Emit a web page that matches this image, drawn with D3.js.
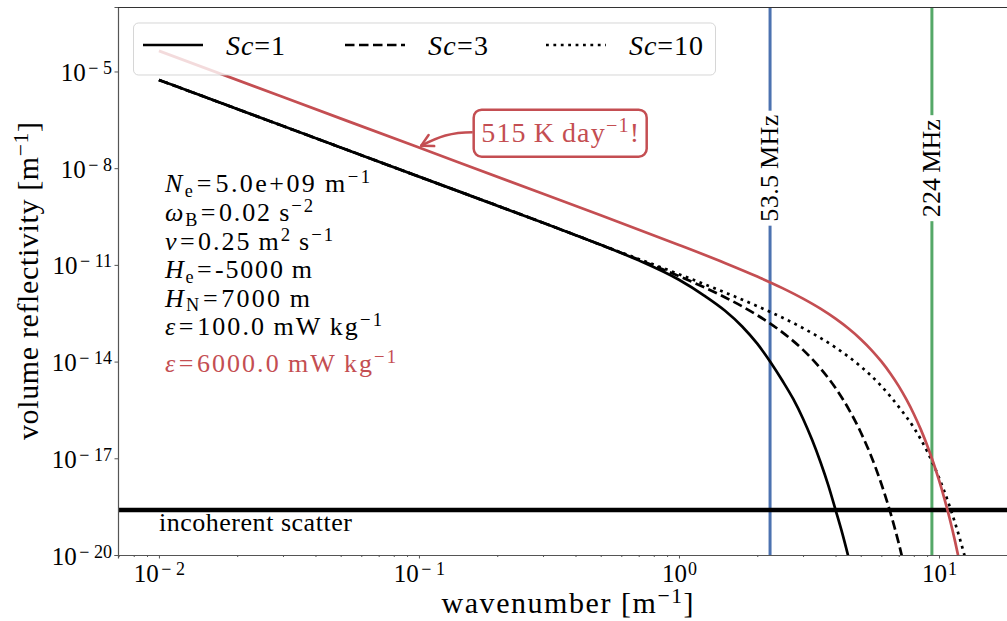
<!DOCTYPE html>
<html><head><meta charset="utf-8">
<script src="https://cdn.jsdelivr.net/npm/d3@7/dist/d3.min.js"></script>
<style>
body{margin:0;background:#fff}
svg{display:block}
text{font-family:"Liberation Serif","Times New Roman",serif;fill:#000}
</style></head>
<body><svg id="chart" width="1007" height="621"></svg>
<script>
// ---------------- data ----------------
const sc1K = [0.01, 0.03, 0.1, 0.3, 0.5, 0.7, 1.0, 1.25, 1.5, 1.75, 2.0, 2.25, 2.5, 2.75, 3.0, 3.25, 3.5, 3.75, 4.0, 4.25, 4.5, 4.75];
const sc1V = [5.47e-6, 2.03e-7, 5.47e-9, 2.03e-10, 4.20e-11, 1.38e-11, 3.45e-12, 1.12e-12, 3.84e-13, 1.23e-13, 3.59e-14, 9.57e-15, 2.54e-15, 6.92e-16, 1.69e-16, 3.73e-17, 7.69e-18, 1.47e-18, 2.52e-19, 4.60e-20, 7.73e-21, 1.28e-21];

const sc3K = [0.01, 0.03, 0.1, 0.3, 0.5, 0.75, 1.0, 1.5, 2.0, 2.5, 3.0, 3.5, 4.0, 4.5, 5.0, 5.5, 6.0, 6.5, 7.0, 7.5, 8.0];
const sc3V = [5.47e-6, 2.03e-7, 5.47e-9, 2.03e-10, 4.20e-11, 1.16e-11, 4.46e-12, 9.93e-13, 2.75e-13, 8.05e-14, 2.31e-14, 6.17e-15, 1.51e-15, 3.31e-16, 6.43e-17, 1.10e-17, 1.62e-18, 2.09e-19, 2.32e-20, 2.18e-21, 1.77e-22];

const sc10K = [0.01, 0.03, 0.1, 0.3, 0.5, 1.0, 1.5, 2.0, 3.0, 4.0, 5.0, 6.0, 7.0, 8.0, 9.0, 10.0, 11.0, 12.0, 12.5, 13.0, 13.5];
const sc10V = [5.47e-6, 2.03e-7, 5.47e-9, 2.03e-10, 4.20e-11, 5.14e-12, 1.40e-12, 5.24e-13, 1.09e-13, 2.73e-14, 7.06e-15, 1.74e-15, 3.95e-16, 8.91e-17, 1.66e-17, 2.51e-18, 3.16e-19, 3.39e-20, 1.05e-20, 3.19e-21, 9.25e-22];

const redK = [0.01, 0.03, 0.1, 0.3, 0.5, 1.0, 1.5, 2.0, 2.5, 3.0, 3.5, 4.0, 4.5, 5.0, 5.5, 6.0, 6.5, 7.0, 7.5, 8.0, 8.5, 9.0, 9.5, 10.0, 10.5, 11.0, 11.5, 12.0, 12.5];
const redV = [4.35e-5, 1.61e-6, 4.35e-8, 1.61e-9, 3.44e-10, 4.16e-11, 1.15e-11, 4.34e-12, 1.90e-12, 8.95e-13, 4.37e-13, 2.14e-13, 1.04e-13, 4.95e-14, 2.28e-14, 1.01e-14, 4.28e-15, 1.73e-15, 6.56e-16, 2.37e-16, 8.02e-17, 2.55e-17, 7.55e-18, 2.09e-18, 5.45e-19, 1.31e-19, 2.90e-20, 5.92e-21, 1.14e-21];

const radarK = [2.24, 9.39];
const radarLabels = ["53.5\u2009MHz", "224\u2009MHz"];
const radarColors = ["#4c72b0", "#55a868"];

const incoherentLevel = 2.5e-19;

const xTicks = [0.01, 0.1, 1, 10];
const yTicks = [1e-20, 1e-17, 1e-14, 1e-11, 1e-8, 1e-5];
const xDomain = [0.00696, 19.95];
const yDomain = [1e-20, 1e-3];

const legendLabels = ["1", "3", "10"];
const arrowTip = {k: 0.102, v: 5.0e-8};

// ---------------- layout ----------------
const FS = 25;
const svg = d3.select("#chart");
const L = 118, R = 1017, T = 7, B = 555;
const RED = "#c44e52";

const x = d3.scaleLog().domain(xDomain).range([L, R]);
const y = d3.scaleLog().domain(yDomain).range([B, T]);

svg.append("defs").append("clipPath").attr("id", "clip")
  .append("rect").attr("x", L).attr("y", T).attr("width", R - L).attr("height", B - T);

const plot = svg.append("g").attr("clip-path", "url(#clip)");

// rich text helper: parts = [text, kind, dx]
function rich(sel, parts, fs, supRaise) {
  let cur = 0;
  const up = supRaise == null ? 0.33 : supRaise;
  parts.forEach(p => {
    const kind = p[1] || "";
    const shift = kind === "sup" ? -up * fs : kind === "sub" ? 0.18 * fs : 0;
    const ts = sel.append("tspan").text(p[0]);
    if (shift - cur !== 0) ts.attr("dy", shift - cur);
    cur = shift;
    if (kind === "sup") ts.attr("font-size", fs * 0.72);
    if (kind === "sub") ts.attr("font-size", fs * 0.7);
    if (kind === "i") ts.attr("font-style", "italic");
    if (p[2]) ts.attr("dx", p[2]);
  });
  return sel;
}
function fit(sel, w) { return sel.attr("textLength", w).attr("lengthAdjust", "spacing"); }

// radar vertical lines
radarK.forEach((k, i) => {
  plot.append("line").attr("x1", x(k)).attr("x2", x(k)).attr("y1", T).attr("y2", B)
    .attr("stroke", radarColors[i]).attr("stroke-width", 3);
});

// incoherent scatter
plot.append("line").attr("x1", L).attr("x2", R).attr("y1", y(incoherentLevel)).attr("y2", y(incoherentLevel))
  .attr("stroke", "#000").attr("stroke-width", 4.5);

const line = d3.line().x(d => x(d[0])).y(d => y(d[1])).curve(d3.curveMonotoneX);
const series = [
  {k: sc10K, v: sc10V, color: "#000", dash: "2.8,4.6"},
  {k: sc3K, v: sc3V, color: "#000", dash: "9.5,4.5"},
  {k: sc1K, v: sc1V, color: "#000", dash: null},
  {k: redK, v: redV, color: RED, dash: null}
];
series.forEach(s => {
  plot.append("path").datum(s.k.map((k, i) => [k, s.v[i]]))
    .attr("d", line).attr("fill", "none").attr("stroke", s.color)
    .attr("stroke-width", 2.7).attr("stroke-dasharray", s.dash);
});

// radar labels with white background
const radarW = [107, 98];
radarK.forEach((k, i) => {
  const g = svg.append("g").attr("transform", `translate(${x(k) - 1},${y(1e-8)}) rotate(-90)`);
  const rect = g.append("rect").attr("fill", "#fff");
  const t = fit(g.append("text").attr("text-anchor", "middle").attr("dy", "0.35em")
    .attr("font-size", FS + 1).text(radarLabels[i]), radarW[i]);
  const bb = t.node().getBBox();
  rect.attr("x", -radarW[i] / 2 - 4).attr("y", bb.y - 1).attr("width", radarW[i] + 8).attr("height", bb.height + 2);
});

// axes
const xAxis = svg.append("g").attr("transform", `translate(0,${B})`)
  .call(d3.axisBottom(x).tickValues(xTicks).tickSize(3.5).tickPadding(5.5));
const minor = [];
[0.001, 0.01, 0.1, 1, 10].forEach(d => { for (let m = 2; m <= 9; m++) { const v = d * m; if (v > xDomain[0] && v < xDomain[1]) minor.push(v); } });
const xMinor = svg.append("g").attr("transform", `translate(0,${B})`)
  .call(d3.axisBottom(x).tickValues(minor).tickSize(2).tickFormat(""));
xMinor.select(".domain").remove();
const yAxis = svg.append("g").attr("transform", `translate(${L},0)`)
  .call(d3.axisLeft(y).tickValues(yTicks).tickSize(3.5).tickPadding(2.5));

[xAxis, xMinor, yAxis].forEach(a => {
  a.selectAll(".domain").attr("stroke", "#555").attr("stroke-width", 1.2);
  a.selectAll(".tick line").attr("stroke", "#555").attr("stroke-width", 1);
  a.selectAll("text").attr("font-size", FS).attr("font-family", null).attr("fill", "#000");
});
function supLabel(sel) {
  sel.each(function (d) {
    const t = d3.select(this); t.text(null);
    const e = Math.round(Math.log10(d));
    const parts = [["10"]];
    if (e < 0) { parts.push(["\u2212", "sup", 2.5]); parts.push([String(-e), "sup", 4.5]); }
    else parts.push([String(e), "sup", 1]);
    rich(t, parts, FS, 0.28);
  });
}
xAxis.selectAll(".tick text").call(supLabel);
yAxis.selectAll(".tick text").attr("dy", "0.36em").call(supLabel);

// top spine
svg.append("line").attr("x1", L).attr("x2", R).attr("y1", T + 0.5).attr("y2", T + 0.5)
  .attr("stroke", "#333").attr("stroke-width", 1.2);

// axis titles
fit(rich(svg.append("text").attr("x", (L + R) / 2).attr("y", 613).attr("text-anchor", "middle").attr("font-size", 30),
  [["wavenumber [m"], ["\u22121", "sup"], ["]"]], 30), 252);
fit(rich(svg.append("text").attr("transform", `translate(38,${(T + B) / 2}) rotate(-90)`).attr("text-anchor", "middle").attr("font-size", 30),
  [["volume reflectivity [m"], ["\u22121", "sup"], ["]"]], 30), 318);

// incoherent scatter label
fit(svg.append("text").attr("x", x(0.01)).attr("y", y(incoherentLevel) + 21).attr("font-size", 26).text("incoherent scatter"), 193);

// parameter text block
const PF = 26;
const paramLines = [
  [["N", "i"], ["e", "sub"], ["=", "", 1.5], ["5.0e+09\u2009m", "", 1.5], ["\u22121", "sup"]],
  [["\u03c9", "i"], ["B", "sub"], ["=", "", 1.5], ["0.02\u2009s", "", 1.5], ["\u22122", "sup"]],
  [["\u03bd", "i"], ["=", "", 1.5], ["0.25\u2009m", "", 1.5], ["2", "sup"], ["\u2009s"], ["\u22121", "sup"]],
  [["H", "i"], ["e", "sub"], ["=", "", 1.5], ["-5000\u2009m", "", 1.5]],
  [["H", "i"], ["N", "sub"], ["=", "", 1.5], ["7000\u2009m", "", 1.5]],
  [["\u03b5", "i"], ["=", "", 1.5], ["100.0\u2009mW\u2009kg", "", 1.5], ["\u22121", "sup"]]
];
const paramWidths = [205, 148, 168, 147, 145, 217];
const baselines = [192, 221, 250, 278, 306.5, 335];
paramLines.forEach((p, i) => {
  fit(rich(svg.append("text").attr("x", 165).attr("y", baselines[i]).attr("font-size", PF), p, PF), paramWidths[i]);
});
fit(rich(svg.append("text").attr("x", 165).attr("y", 372).attr("font-size", PF).style("fill", RED),
  [["\u03b5", "i"], ["=", "", 1.5], ["6000.0\u2009mW\u2009kg", "", 1.5], ["\u22121", "sup"]], PF), 231);

// annotation
const tip = [x(arrowTip.k), y(arrowTip.v)];
const ann = svg.append("g");
const boxX = tip[0] + 52.5, boxY = tip[1] - 36, boxW = 173, boxH = 47;
ann.append("rect").attr("x", boxX).attr("y", boxY).attr("width", boxW).attr("height", boxH)
  .attr("rx", 8).attr("fill", "#fff").attr("stroke", RED).attr("stroke-width", 2.5);
fit(rich(ann.append("text").attr("x", boxX + boxW / 2).attr("y", boxY + 32).attr("text-anchor", "middle")
  .attr("font-size", 28).style("fill", RED), [["515\u2009K\u2009day"], ["\u22121", "sup"], ["!"]], 28), 158);
const start = [boxX - 1, boxY + boxH / 2 - 1];
const c1 = [start[0] - 22, start[1]], c2 = [tip[0] + 18, tip[1] - 9];
ann.append("path").attr("d", `M${start}C${c1} ${c2} ${tip}`).attr("fill", "none").attr("stroke", RED).attr("stroke-width", 2.5);
const ang = Math.atan2(tip[1] - c2[1], tip[0] - c2[0]);
const hl = 13;
[0.5, -0.5].forEach(a => {
  ann.append("line").attr("x1", tip[0]).attr("y1", tip[1])
    .attr("x2", tip[0] - hl * Math.cos(ang + a)).attr("y2", tip[1] - hl * Math.sin(ang + a))
    .attr("stroke", RED).attr("stroke-width", 2.5).attr("stroke-linecap", "round");
});

// legend
const lg = svg.append("g");
lg.append("rect").attr("x", 133.5).attr("y", 23).attr("width", 582).attr("height", 52).attr("rx", 5)
  .attr("fill", "#fff").attr("fill-opacity", 0.8).attr("stroke", "#cccccc").attr("stroke-opacity", 0.8);
const legX = [143, 345, 546];
const legDash = [null, "9.5,4.5", "2.8,4.6"];
const legW = [59, 60, 74];
legendLabels.forEach((lab, i) => {
  lg.append("line").attr("x1", legX[i]).attr("x2", legX[i] + 60).attr("y1", 45).attr("y2", 45)
    .attr("stroke", "#000").attr("stroke-width", 2.7).attr("stroke-dasharray", legDash[i]);
  fit(rich(lg.append("text").attr("x", legX[i] + 83).attr("y", 55).attr("font-size", 28), [["Sc", "i"], ["=" + lab]], 28), legW[i]);
});
</script></body></html>
